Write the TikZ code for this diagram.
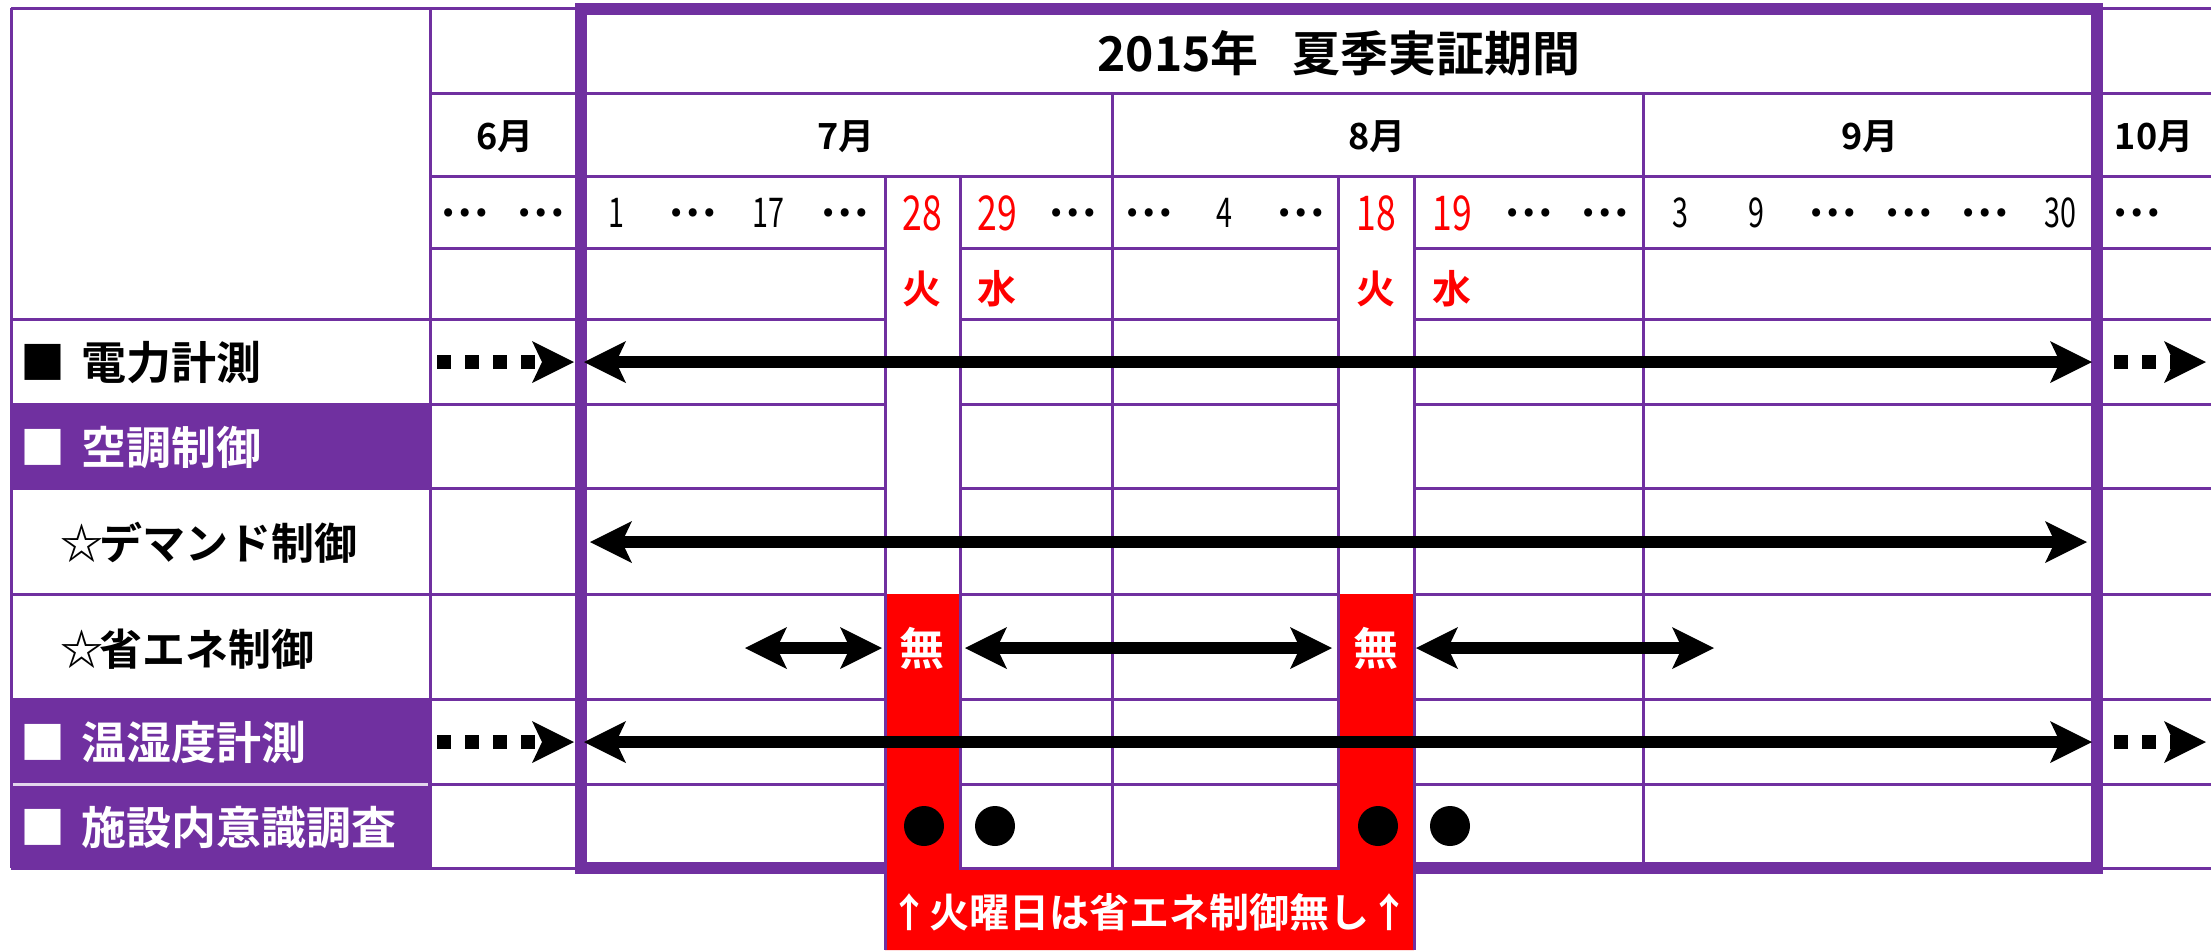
\documentclass[tikz,border=0pt]{standalone}
\usepackage{fontspec}
\setmainfont{Noto Sans CJK JP}[BoldFont={Noto Sans CJK JP Bold}]
\newfontfamily\narrowdig{Noto Sans CJK JP}[FakeStretch=0.7]
\newfontfamily\reddig{Noto Sans CJK JP}[FakeStretch=0.74]
\usetikzlibrary{arrows.meta}
\definecolor{pur}{RGB}{112,48,160}
\definecolor{rd}{RGB}{255,0,0}
\begin{document}
\begin{tikzpicture}[x=0.5pt,y=-0.5pt,
  >={Stealth[length=21pt,width=21pt,inset=5pt,line width=0pt]},
  gridline/.style={draw=pur,line width=1.5pt},
  frameline/.style={draw=pur,line width=6pt},
  darr/.style={line width=6pt,<->},
  dotarr/.style={line width=7pt,dash pattern=on 7pt off 7pt,->},
  txt/.style={inner sep=0pt},
  titletxt/.style={txt,font=\bfseries\fontsize{24}{26}\selectfont},
  month/.style={txt,font=\bfseries\fontsize{18}{20}\selectfont},
  dnum/.style={txt,font=\narrowdig\fontsize{20.5}{22}\selectfont},
  ell/.style={txt,font=\bfseries\fontsize{22}{24}\selectfont},
  rnum/.style={txt,text=rd,font=\reddig\fontsize{24}{26}\selectfont},
  wday/.style={txt,text=rd,font=\bfseries\fontsize{19.5}{22}\selectfont},
  lbl/.style={txt,anchor=west,font=\bfseries\fontsize{22.5}{24}\selectfont},
  lblw/.style={lbl,text=white},
  lbls/.style={lbl,font=\bfseries\fontsize{21.5}{24}\selectfont},
  nashi/.style={txt,text=white,font=\bfseries\fontsize{22.5}{24}\selectfont},
  note/.style={txt,text=white,font=\bfseries\fontsize{20}{22}\selectfont},
  survey/.style={circle,fill=black,inner sep=0pt,minimum size=20pt},
]
\useasboundingbox (0,0) rectangle (2211,950);

% label column fills
\fill[pur] (11,404) rectangle (430,488);
\fill[pur] (11,699) rectangle (430,868);

% horizontal grid lines
\draw[gridline] (11,8) -- (2211,8);
\draw[gridline] (430,93) -- (2211,93);
\draw[gridline] (430,176) -- (2211,176);
\draw[gridline] (430,248) -- (885,248) (960,248) -- (1338,248) (1414,248) -- (2211,248);
\foreach \yy in {319,404,488,594}{
  \draw[gridline] (11,\yy) -- (885,\yy) (960,\yy) -- (1338,\yy) (1414,\yy) -- (2211,\yy);
}
\draw[gridline] (11,699) -- (2211,699);
\draw[gridline] (430,784) -- (2211,784);
\draw[draw=white!80!pur,line width=1.5pt] (13,784) -- (428,784);
\draw[gridline] (11,868) -- (2211,868);

% vertical grid lines
\draw[gridline] (11,8) -- (11,868);
\draw[gridline] (430,8) -- (430,868);
\draw[gridline] (1112,93) -- (1112,868);
\draw[gridline] (1643,93) -- (1643,868);
\draw[gridline] (885,176) -- (885,594) (960,176) -- (960,594)
                (1338,176) -- (1338,594) (1414,176) -- (1414,594);

% summer period frame
\draw[frameline] (885,868) -- (581,868) -- (581,9) -- (2097,9) -- (2097,868) -- (1414,868);

% red "no energy-saving" band
\fill[rd] (885,594) -- (960,594) -- (960,868) -- (1338,868) -- (1338,594)
          -- (1414,594) -- (1414,950) -- (885,950) -- cycle;
\draw[gridline] (885,594) -- (885,950) (960,594) -- (960,868) -- (1338,868) -- (1338,594)
                (1414,594) -- (1414,950);

% title and months
\node[titletxt] (title) at (1339,53) {2015年\hspace{0.7em}夏季実証期間};
\node[month] (m6) at (505,137) {6月};
\node[month] (m7) at (846,137) {7月};
\node[month] (m8) at (1377,137) {8月};
\node[month] (m9) at (1870,137) {9月};
\node[month] (m10) at (2154,137) {10月};

% days
\node[ell] (d0) at (465,213) {…};
\node[ell] (d1) at (541,213) {…};
\node[dnum] (d2) at (616,213) {1};
\node[ell] (d3) at (693,213) {…};
\node[dnum] (d4) at (768,213) {17};
\node[ell] (d5) at (845,213) {…};
\node[rnum] (d6) at (922,213) {28};
\node[rnum] (d7) at (997,213) {29};
\node[ell] (d8) at (1073,213) {…};
\node[ell] (d9) at (1149,213) {…};
\node[dnum] (d10) at (1224,213) {4};
\node[ell] (d11) at (1301,213) {…};
\node[rnum] (d12) at (1376,213) {18};
\node[rnum] (d13) at (1452,213) {19};
\node[ell] (d14) at (1529,213) {…};
\node[ell] (d15) at (1605,213) {…};
\node[dnum] (d16) at (1680,213) {3};
\node[dnum] (d17) at (1756,213) {9};
\node[ell] (d18) at (1833,213) {…};
\node[ell] (d19) at (1909,213) {…};
\node[ell] (d20) at (1985,213) {…};
\node[dnum] (d21) at (2060,213) {30};
\node[ell] (d22) at (2137,213) {…};

% weekdays
\node[wday] (w1) at (922,289) {火};
\node[wday] (w2) at (997,289) {水};
\node[wday] (w3) at (1376,289) {火};
\node[wday] (w4) at (1452,289) {水};

% row labels
\node[lbl] (r1) at (20,362) {■\hspace{0.35em}電力計測};
\node[lblw] (r2) at (20,447) {■\hspace{0.35em}空調制御};
\node[lbls] (r3) at (60,543) {☆\hspace{-0.1em}デマンド制御};
\node[lbls] (r4) at (60,649) {☆\hspace{-0.1em}省エネ制御};
\node[lblw] (r5) at (20,742) {■\hspace{0.35em}温湿度計測};
\node[lblw] (r6) at (20,827) {■\hspace{0.35em}施設内意識調査};

% "none" marks
\node[nashi] (n1) at (922,648) {無};
\node[nashi] (n2) at (1376,648) {無};

% survey dots
\node[survey] (s1) at (924,826) {};
\node[survey] (s2) at (995,826) {};
\node[survey] (s3) at (1378,826) {};
\node[survey] (s4) at (1450,826) {};

% note
\node[note] (nt) at (1149,912) {↑火曜日は省エネ制御無し↑};

% arrow end points
\coordinate (p1a) at (437,362);  \coordinate (p1b) at (574,362);
\coordinate (p1c) at (584,362);  \coordinate (p1d) at (2092,362);
\coordinate (p1e) at (2114,362); \coordinate (p1f) at (2206,362);
\coordinate (p3a) at (590,542);  \coordinate (p3b) at (2087,542);
\coordinate (p4a) at (745,648);  \coordinate (p4b) at (882,648);
\coordinate (p4c) at (965,648);  \coordinate (p4d) at (1332,648);
\coordinate (p4e) at (1416,648); \coordinate (p4f) at (1714,648);
\coordinate (p5a) at (437,742);  \coordinate (p5b) at (574,742);
\coordinate (p5c) at (584,742);  \coordinate (p5d) at (2092,742);
\coordinate (p5e) at (2114,742); \coordinate (p5f) at (2206,742);

\draw[dotarr] (p1a) -- (p1b);
\draw[darr] (p1c) -- (p1d);
\draw[dotarr] (p1e) -- (p1f);
\draw[darr] (p3a) -- (p3b);
\draw[darr] (p4a) -- (p4b);
\draw[darr] (p4c) -- (p4d);
\draw[darr] (p4e) -- (p4f);
\draw[dotarr] (p5a) -- (p5b);
\draw[darr] (p5c) -- (p5d);
\draw[dotarr] (p5e) -- (p5f);
\end{tikzpicture}
\end{document}
